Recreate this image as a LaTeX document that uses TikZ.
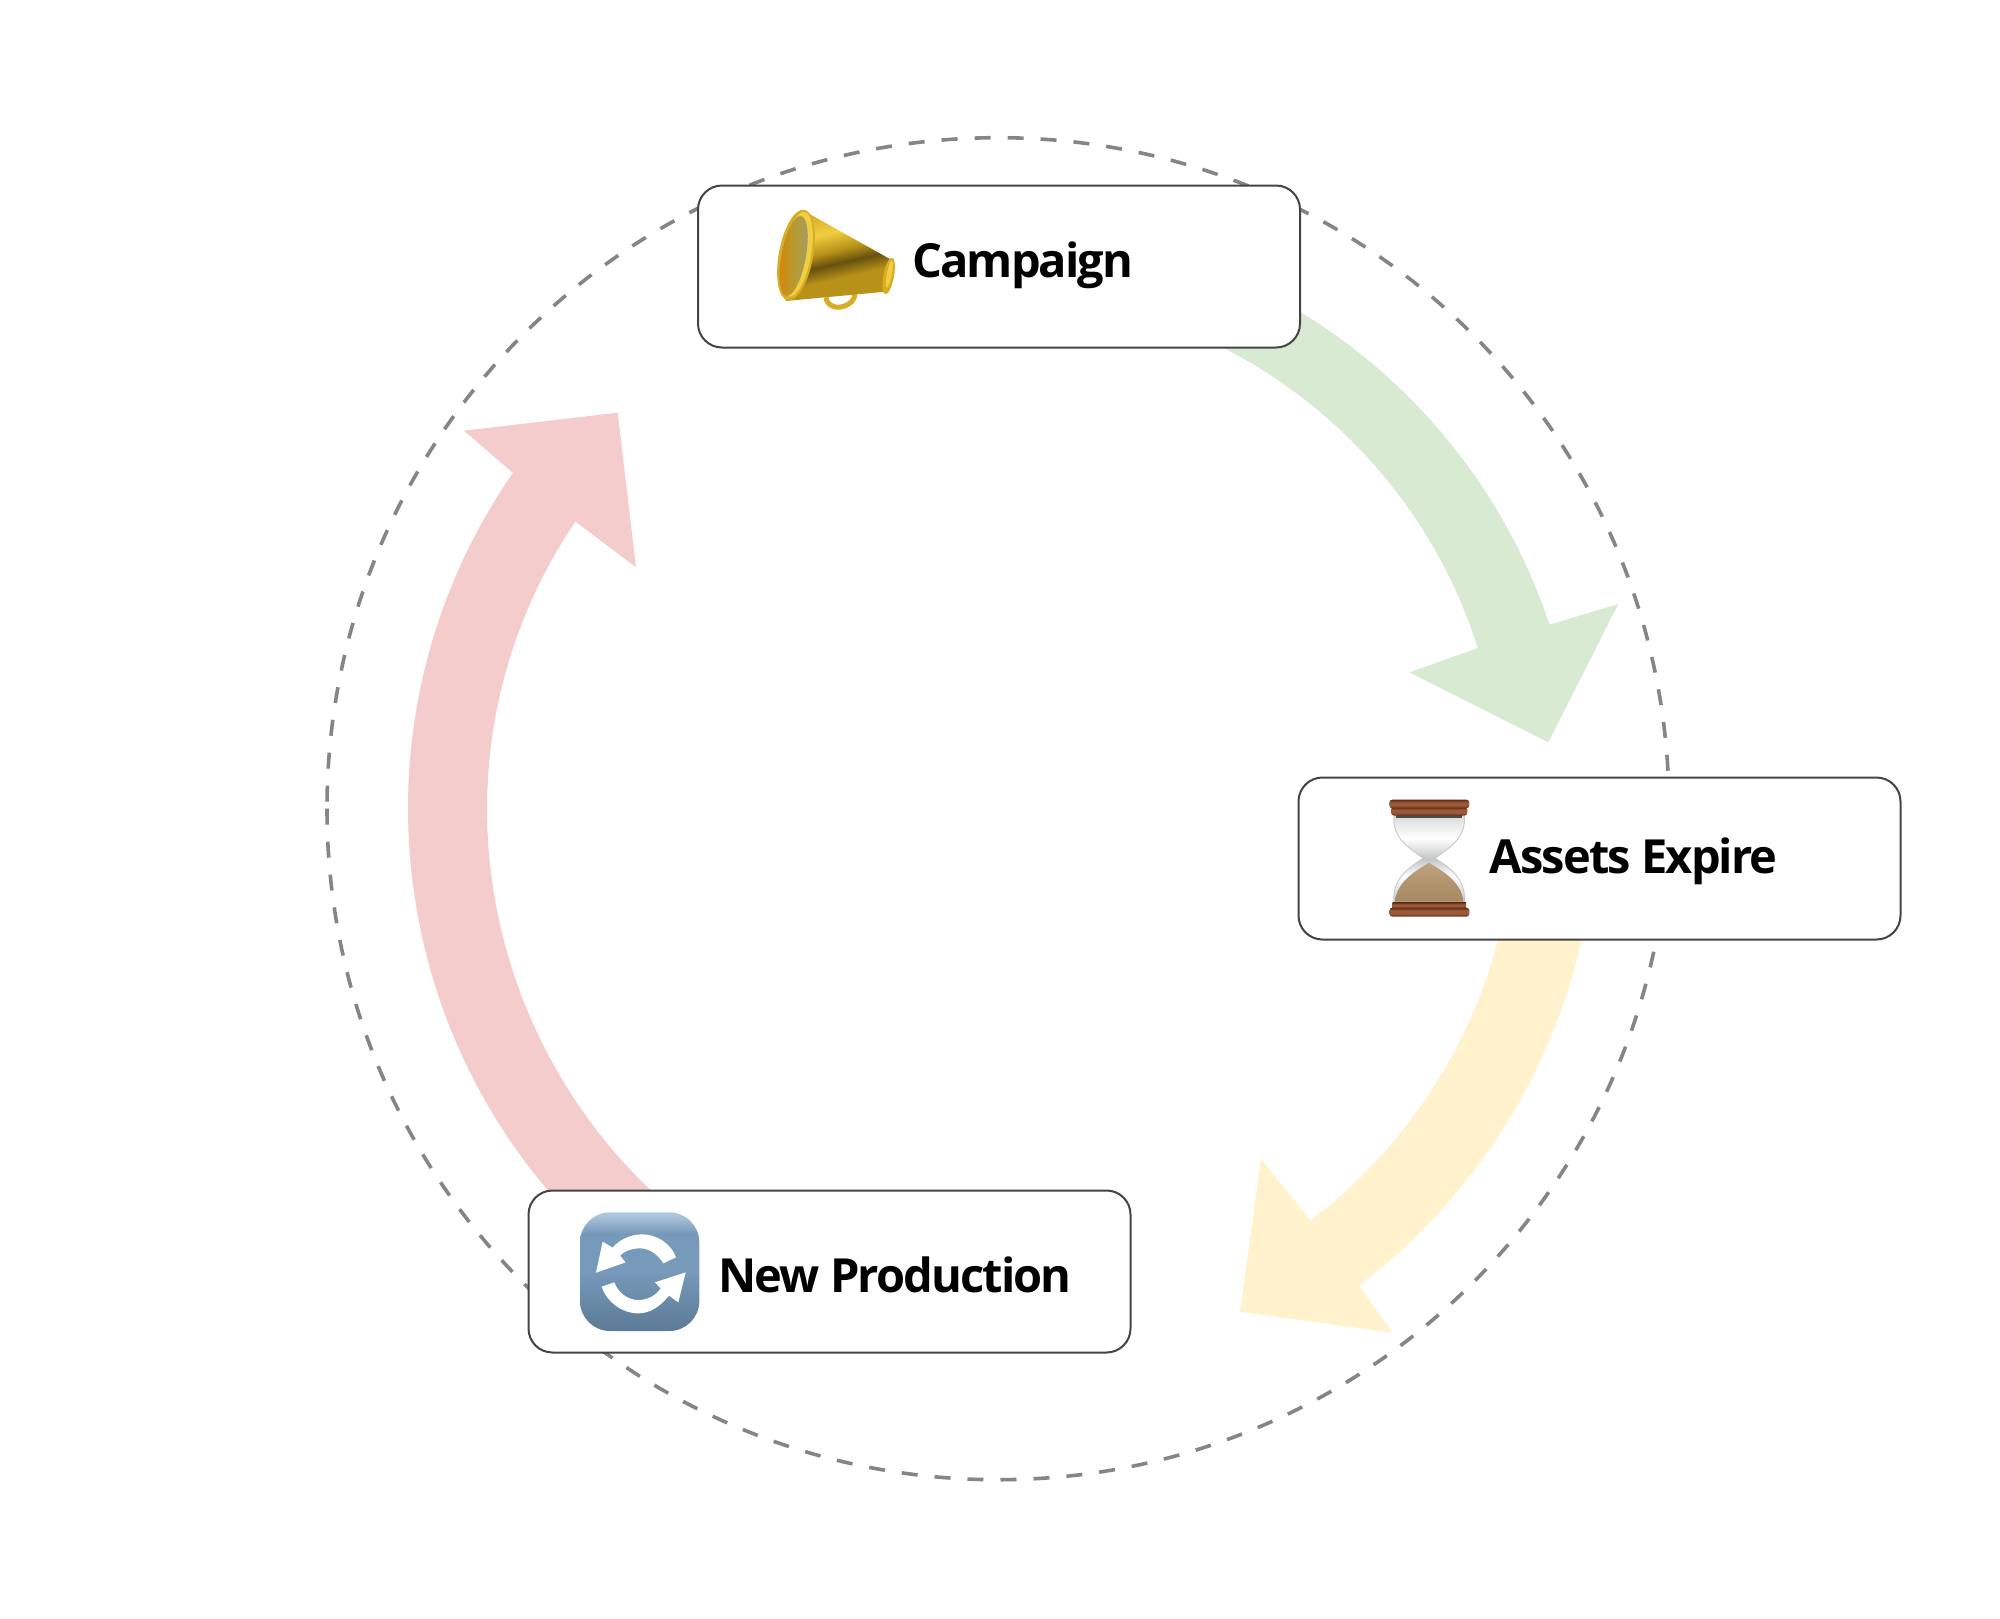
\documentclass[tikz,border=0pt]{standalone}
\usepackage{fontspec}
\setmainfont{Open Sans}[BoldFont={Open Sans Bold},BoldFeatures={LetterSpace=-4}]
\usetikzlibrary{calc}
\definecolor{garrow}{HTML}{D9EAD3}
\definecolor{yarrow}{HTML}{FFF2CC}
\definecolor{rarrow}{HTML}{F4CCCC}
\definecolor{ringgray}{HTML}{858585}
\definecolor{boxline}{HTML}{444444}
\definecolor{tileA}{HTML}{AEC6DC}
\definecolor{tileB}{HTML}{7799BA}
\definecolor{tileC}{HTML}{5C7A96}
\definecolor{gA}{HTML}{D6AC28}
\definecolor{gB}{HTML}{F0CE40}
\definecolor{gC}{HTML}{66500F}
\definecolor{gD}{HTML}{B89218}
\definecolor{mA}{HTML}{D08A10}
\definecolor{mB}{HTML}{B89A30}
\definecolor{mC}{HTML}{A89C5C}
\definecolor{wA}{HTML}{5E2C12}
\definecolor{wB}{HTML}{9C5A38}
\definecolor{sA}{HTML}{BFA37E}
\definecolor{sB}{HTML}{A68862}
\definecolor{glassA}{HTML}{DADCDC}
\definecolor{glassB}{HTML}{C4C6C6}
\pgfdeclareverticalshading{conegold}{100bp}{color(0bp)=(gD); color(25bp)=(gD); color(38bp)=(gD); color(46bp)=(gC); color(53bp)=(gD); color(63bp)=(gB); color(75bp)=(gA); color(100bp)=(gA)}
\pgfdeclarehorizontalshading{mouthgold}{100bp}{color(0bp)=(mA); color(30bp)=(mA); color(50bp)=(mB); color(70bp)=(mC); color(100bp)=(mC)}
\pgfdeclareverticalshading{woodA}{100bp}{color(0bp)=(wA); color(25bp)=(wA); color(42bp)=(wB); color(58bp)=(wB); color(75bp)=(wA); color(100bp)=(wA)}
\pgfdeclareverticalshading{glassfill}{100bp}{color(0bp)=(glassB); color(25bp)=(glassB); color(40bp)=(white); color(50bp)=(glassB); color(62bp)=(white); color(75bp)=(glassA); color(100bp)=(glassA)}
\pgfdeclareverticalshading{tile}{100bp}{color(0bp)=(tileC); color(25bp)=(tileC); color(50bp)=(tileB); color(66bp)=(tileB); color(74bp)=(tileA); color(100bp)=(tileA)}
\tikzset{
  ring/.style={draw=ringgray,line width=3.6pt,dash pattern=on 16pt off 17.02pt},
  stagebox/.style={draw=boxline,line width=2pt,fill=white,rounded corners=24pt,minimum width=602pt,minimum height=162pt,inner sep=0pt},
  stagetext/.style={font=\fontsize{47}{47}\selectfont\bfseries,text=black,anchor=base west,inner sep=0pt}
}
\begin{document}
\begin{tikzpicture}[x=1pt,y=1pt]
\useasboundingbox (0,0) rectangle (2000,-1618);
\fill[white] (0,0) rectangle (2000,-1618);
\coordinate (c) at (998,-808.7);
\draw[ring] ($(c)+(180:671)$) arc[start angle=180,end angle=540,radius=671];
% block arrows
\fill[garrow] ($(c)+(70:581.5)$) arc[start angle=70,end angle=18.45,radius=581.5]
  -- (1618.3,-604) -- (1548.3,-742.3) -- (1409.3,-672.3)
  -- plot[domain=18.5:70,samples=40] ({998+(506+(\x-18.5)*0.155)*cos(\x)},{-808.7+(506+(\x-18.5)*0.155)*sin(\x)}) -- cycle;
\fill[yarrow] ($(c)+(-5:598)$) arc[start angle=-5,end angle=-52.9,radius=598]
  -- (1392.7,-1332.7) -- (1240,-1311.7) -- (1261,-1159.3) -- ($(c)+(-52.8:517)$)
  arc[start angle=-52.8,end angle=-5,radius=517] -- cycle;
\fill[rarrow] ($(c)+(230:590)$) arc[start angle=230,end angle=145.3,radius=590]
  -- (464,-430.7) -- (617.7,-412.7) -- (636,-567.3)
  -- plot[domain=145.8:230,samples=40] ({998+(511+5*(max(\x-180,0)/47.6)^2)*cos(\x)},{-808.7+(511+5*(max(\x-180,0)/47.6)^2)*sin(\x)}) -- cycle;
% boxes
\node[stagebox] (campaign) at (999,-266.5) {};
\node[stagebox] (assets) at (1599.5,-858.5) {};
\node[stagebox] (newprod) at (829.5,-1271.5) {};
\node[stagetext] (campaignlabel) at (912,-277.7) {Campaign};
\node[stagetext] (assetslabel) at (1489.5,-873.5) {Assets Expire};
\node[stagetext] (newprodlabel) at (718,-1292.5) {New Production};
% megaphone
\begin{scope}[shift={(765,-200)},x=.3333pt,y=-.3333pt]
  \draw[line width=5pt,color=gA] (183,292) .. controls (185,318) and (215,326) .. (232,320) .. controls (255,314) and (270,300) .. (270,280);
  \shade[shading=conegold,shading angle=13] (112,30) -- (380,180) -- (362,275) -- (62,303) -- cycle;
  \fill[gA,rotate around={-10.5:(371,228)}] (371,228) ellipse[x radius=5.3pt,y radius=18.6pt];
  \fill[gB,rotate around={-10.5:(373,222)}] (373,222) ellipse[x radius=2.5pt,y radius=14pt];
  \fill[gA,rotate around={-10.5:(93,165)}] (93,165) ellipse[x radius=17.2pt,y radius=46pt];
  \fill[gB,rotate around={-10.5:(96,163)}] (96,163) ellipse[x radius=14pt,y radius=43pt];
  \shade[shading=mouthgold,rotate around={-10.5:(86,168)}] (86,168) ellipse[x radius=12.2pt,y radius=40.6pt];
\end{scope}
% hourglass
\begin{scope}[shift={(1380,-795)},x=.3333pt,y=-.3333pt]
  \shade[shading=glassfill,draw=glassB,line width=.8pt] (42,62) -- (253,62) .. controls (260,130) and (205,160) .. (165,190) .. controls (205,215) and (260,250) .. (253,322) -- (42,322) .. controls (35,250) and (90,215) .. (130,190) .. controls (90,160) and (35,130) .. (42,62) -- cycle;
  \shade[top color=sA,bottom color=sB] (147,203) .. controls (175,222) and (245,255) .. (250,320) -- (45,320) .. controls (50,255) and (118,222) .. (147,203) -- cycle;
  \fill[black!70] (48,60) rectangle (247,68);
  \shade[shading=woodA,rounded corners=3pt] (33,36) rectangle (262,62);
  \shade[shading=woodA,rounded corners=3pt] (28,14) rectangle (268,40);
  \shade[shading=woodA] (38,322) rectangle (258,342);
  \shade[shading=woodA,rounded corners=3pt] (28,338) rectangle (268,365);
\end{scope}
% refresh tile
\begin{scope}[shift={(570,-1205)},x=.3333pt,y=-.3333pt]
  \shade[shading=tile,rounded corners=30pt] (30,22) rectangle (388,378);
  \fill[white] (78,203) -- (98,110) -- (128,128) .. controls (150,100) and (190,88) .. (215,88) .. controls (265,88) and (305,120) .. (318,157) -- (280,175) .. controls (265,150) and (240,130) .. (210,130) .. controls (185,130) and (160,140) .. (150,152) -- (167,172) -- cycle;
  \fill[white] (347,202) -- (325,292) -- (297,272) .. controls (270,305) and (240,325) .. (205,325) .. controls (155,325) and (110,290) .. (95,245) -- (133,232) .. controls (145,265) and (175,285) .. (205,285) .. controls (235,285) and (258,270) .. (272,250) -- (255,232) -- cycle;
\end{scope}
\end{tikzpicture}
\end{document}
